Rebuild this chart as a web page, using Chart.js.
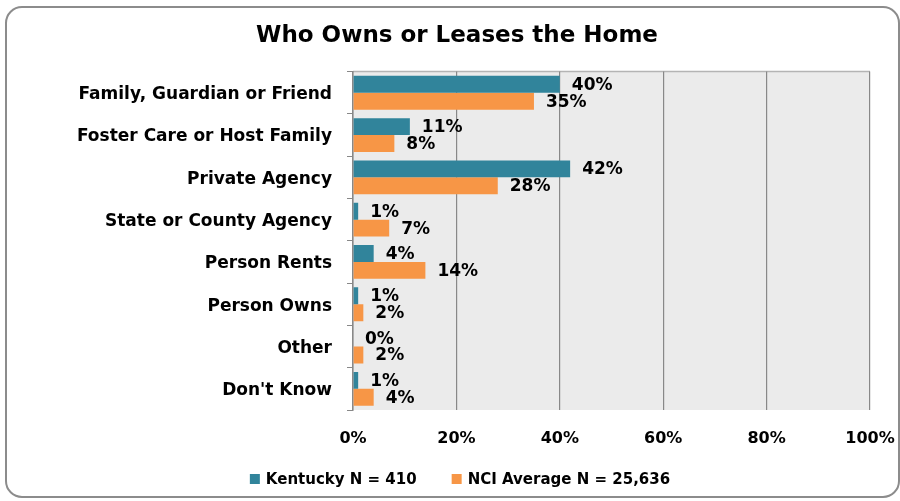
<!DOCTYPE html>
<html>
<head>
<meta charset="utf-8">
<script src="https://cdn.jsdelivr.net/npm/chart.js@4/dist/chart.umd.min.js"></script>
<style>
html,body{margin:0;padding:0;background:#fff;}
#wrap{width:900px;height:501px;position:relative;}
</style>
</head>
<body>
<div id="wrap"><canvas id="c" width="900" height="501"></canvas></div>
<script>
const titleText = "Who Owns or Leases the Home";
const categories = ["Family, Guardian or Friend","Foster Care or Host Family","Private Agency","State or County Agency","Person Rents","Person Owns","Other","Don't Know"];
const kentuckyLabel = "Kentucky N = 410";
const kentuckyValues = [40, 11, 42, 1, 4, 1, 0, 1];
const nciLabel = "NCI Average N = 25,636";
const nciValues = [35, 8, 28, 7, 14, 2, 2, 4];
const xTicks = [0, 20, 40, 60, 80, 100];
const seriesColors = ['#31849b', '#f79646'];

const FONT = "'DejaVu Sans', 'Verdana', sans-serif";

const framePlugin = {
  id: 'frame',
  beforeDraw(chart) {
    const ctx = chart.ctx;
    const a = chart.chartArea;
    ctx.save();
    ctx.fillStyle = '#fff';
    ctx.fillRect(0, 0, chart.width, chart.height);
    ctx.strokeStyle = '#8c8c8c';
    ctx.lineWidth = 2;
    ctx.beginPath();
    ctx.roundRect(6, 7, 893, 490, 16);
    ctx.stroke();
    ctx.fillStyle = '#ebebeb';
    ctx.fillRect(a.left, a.top, a.right - a.left, a.bottom - a.top);
    ctx.strokeStyle = '#b4b4b4';
    ctx.lineWidth = 1.5;
    ctx.beginPath();
    ctx.moveTo(a.left, a.top);
    ctx.lineTo(a.right, a.top);
    ctx.stroke();
    ctx.restore();
  }
};

const labelPlugin = {
  id: 'valueLabels',
  afterDatasetsDraw(chart) {
    const ctx = chart.ctx;
    ctx.save();
    ctx.font = "bold 17px " + FONT;
    ctx.fillStyle = '#000';
    ctx.textAlign = 'left';
    ctx.textBaseline = 'middle';
    chart.data.datasets.forEach((ds, i) => {
      const meta = chart.getDatasetMeta(i);
      meta.data.forEach((el, j) => {
        ctx.fillText(ds.data[j] + '%', el.x + 12, el.y + 1);
      });
    });
    ctx.restore();
  }
};

const legendPlugin = {
  id: 'bottomLegend',
  afterDraw(chart) {
    const ctx = chart.ctx;
    ctx.save();
    ctx.font = "bold 15px " + FONT;
    ctx.textAlign = 'left';
    ctx.textBaseline = 'middle';
    const items = chart.data.datasets.map(ds => ({ text: ds.label, color: ds.backgroundColor }));
    const box = 10, gap = 6, spacing = 35, cy = 479, centerX = 460;
    const widths = items.map(it => box + gap + ctx.measureText(it.text).width);
    const total = widths.reduce((s, w) => s + w, 0) + spacing * (items.length - 1);
    let x = centerX - total / 2;
    items.forEach((it, i) => {
      ctx.fillStyle = it.color;
      ctx.fillRect(x, cy - box / 2, box, box);
      ctx.fillStyle = '#000';
      ctx.fillText(it.text, x + box + gap, cy + 1);
      x += widths[i] + spacing;
    });
    ctx.restore();
  }
};

new Chart(document.getElementById('c'), {
  type: 'bar',
  data: {
    labels: categories,
    datasets: [
      { label: kentuckyLabel, data: kentuckyValues, backgroundColor: seriesColors[0], categoryPercentage: 0.8, barPercentage: 1.0 },
      { label: nciLabel, data: nciValues, backgroundColor: seriesColors[1], categoryPercentage: 0.8, barPercentage: 1.0 }
    ]
  },
  options: {
    indexAxis: 'y',
    responsive: false,
    animation: false,
    devicePixelRatio: 1,
    layout: { padding: { left: 44, right: 30, top: 0, bottom: 41 } },
    plugins: {
      title: {
        display: true,
        text: titleText,
        color: '#000',
        font: { family: FONT, size: 23, weight: 'bold' },
        padding: { top: 22, bottom: 22 }
      },
      legend: { display: false },
      tooltip: { enabled: false }
    },
    scales: {
      x: {
        min: 0,
        max: 100,
        afterBuildTicks(s) { s.ticks = xTicks.map(v => ({ value: v })); },
        afterFit(s) { s.height = 50; },
        ticks: {
          color: '#000',
          font: { family: FONT, size: 16, weight: 'bold' },
          padding: 0,
          callback: v => v + '%'
        },
        grid: { color: '#888888', lineWidth: 1.2, drawTicks: true, tickLength: 19, tickColor: 'rgba(0,0,0,0)' },
        border: { display: false }
      },
      y: {
        afterFit(s) { s.width = 309; },
        ticks: {
          color: '#000',
          font: { family: FONT, size: 17, weight: 'bold' },
          padding: 15,
          labelOffset: 2
        },
        grid: { offset: true, drawOnChartArea: false, drawTicks: true, tickLength: 6, color: '#888888' },
        border: { display: true, color: '#888888', width: 1.5 }
      }
    }
  },
  plugins: [framePlugin, labelPlugin, legendPlugin]
});
</script>
</body>
</html>
